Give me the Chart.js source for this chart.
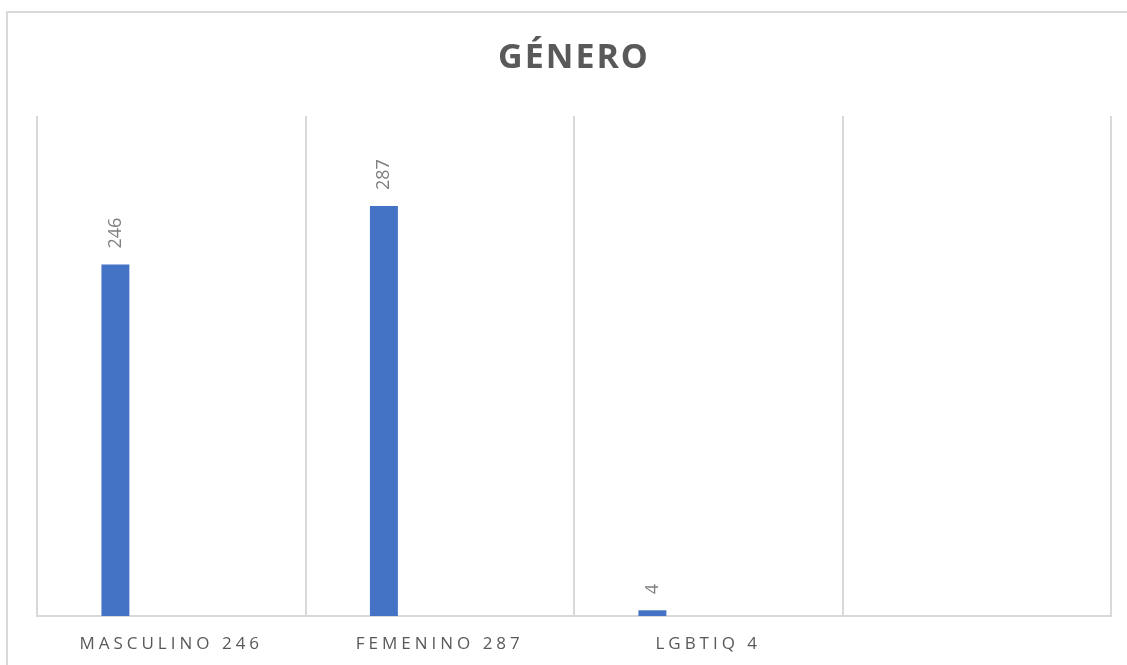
<!DOCTYPE html>
<html>
<head>
<meta charset="utf-8">
<script src="https://cdn.jsdelivr.net/npm/chart.js@4/dist/chart.umd.min.js"></script>
<style>
  html, body { margin: 0; padding: 0; background: #fff; overflow: hidden; }
  #wrap { position: relative; width: 1127px; height: 665px; }
  #frame { position: absolute; left: 6px; top: 11px; width: 1300px; height: 800px; border: 2px solid #d9d9d9; box-sizing: border-box; }
  #c { position: absolute; left: 0; top: 0; }
</style>
</head>
<body>
<div id="wrap">
  <div id="frame"></div>
  <canvas id="c" width="1127" height="665"></canvas>
</div>
<script>
const titleText = 'GÉNERO';
const categories = ['MASCULINO 246', 'FEMENINO 287', 'LGBTIQ 4', ''];
const values = [246, 287, 4, null];
const yMin = 0;
const yMax = 350;

const emptySeries = [null, null, null, null];

const spacingPlugin = {
  id: 'spacing',
  beforeDraw(chart) {
    const ctx = chart.ctx;
    ctx.letterSpacing = '2px';
    const s = chart.scales.x;
    if (s && !s._spacedLabels) {
      const orig = s.drawLabels.bind(s);
      s.drawLabels = function (area) {
        ctx.save();
        ctx.letterSpacing = '4px';
        orig(area);
        ctx.restore();
      };
      s._spacedLabels = true;
    }
  }
};

const valueLabels = {
  id: 'valueLabels',
  afterDatasetsDraw(chart) {
    const ctx = chart.ctx;
    const meta = chart.getDatasetMeta(0);
    ctx.save();
    ctx.letterSpacing = '0px';
    ctx.font = '18px "Open Sans"';
    ctx.fillStyle = '#7f7f7f';
    ctx.textAlign = 'left';
    ctx.textBaseline = 'middle';
    meta.data.forEach((bar, i) => {
      const v = values[i];
      if (v === null || v === undefined) return;
      ctx.save();
      ctx.translate(bar.x, bar.y - 16);
      ctx.rotate(-Math.PI / 2);
      ctx.fillText(String(v), 0, 0);
      ctx.restore();
    });
    ctx.restore();
  }
};

new Chart(document.getElementById('c'), {
  type: 'bar',
  data: {
    labels: categories,
    datasets: [
      { data: values, backgroundColor: '#4472c4' },
      { data: emptySeries, backgroundColor: '#ed7d31' },
      { data: emptySeries, backgroundColor: '#a5a5a5' },
      { data: emptySeries, backgroundColor: '#ffc000' },
      { data: emptySeries, backgroundColor: '#5b9bd5' }
    ]
  },
  options: {
    responsive: false,
    animation: false,
    categoryPercentage: 0.52,
    barPercentage: 1,
    layout: { padding: { left: 37, right: 16, top: 0, bottom: 0 } },
    plugins: {
      legend: { display: false },
      tooltip: { enabled: false },
      title: {
        display: true,
        text: titleText,
        color: '#595959',
        font: { family: 'Open Sans', size: 34, weight: 'bold', lineHeight: 1.2 },
        padding: { top: 38, bottom: 37.2 }
      }
    },
    scales: {
      x: {
        grid: { display: true, offset: true, color: '#d9d9d9', lineWidth: 2, drawTicks: false },
        border: { display: true, color: '#d9d9d9', width: 2 },
        ticks: { color: '#595959', font: { family: 'Open Sans', size: 17 }, padding: 18, maxRotation: 0 },
        afterFit(scale) { scale.height = 49; }
      },
      y: {
        display: false,
        min: yMin,
        max: yMax
      }
    }
  },
  plugins: [spacingPlugin, valueLabels]
});
</script>
</body>
</html>
